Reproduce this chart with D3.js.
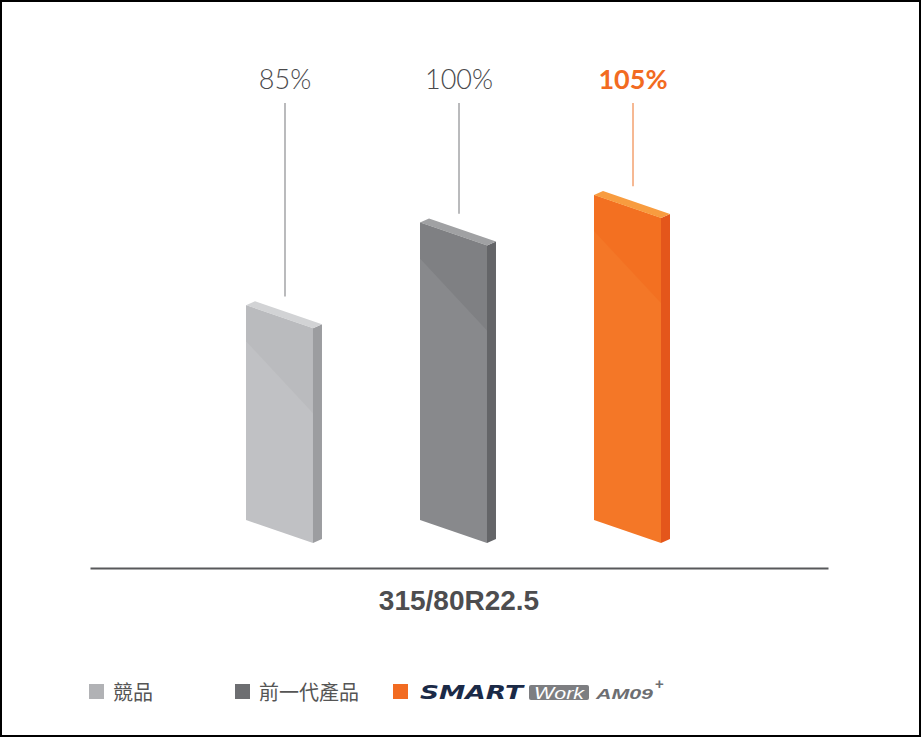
<!DOCTYPE html>
<html>
<head>
<meta charset="utf-8">
<script src="https://cdn.jsdelivr.net/npm/d3@7"></script>
<style>
  html, body { margin: 0; padding: 0; background: #fff; }
</style>
</head>
<body>
<div id="chart-container"></div>
<script>
// data
const categories = ['競品', '前一代產品', 'SMART Work AM09+'];
const values = [85, 100, 105];
const valueLabels = ['85%', '100%', '105%'];
const tireSizes = ['315/80R22.5'];

const width = 921;
const height = 737;

// bar faces: front upper, front lower, side, top
const palette = [
  { up: '#babbbe', low: '#c0c1c4', side: '#9c9da0', top: '#d2d3d5', label: '#4a4a4c', line: '#8c8d90', weight: 300 },
  { up: '#7f8083', low: '#88898c', side: '#646568', top: '#a0a1a3', label: '#4a4a4c', line: '#8c8d90', weight: 300 },
  { up: '#f37021', low: '#f47727', side: '#e4561b', top: '#f89c3f', label: '#f26b21', line: '#f08a4b', weight: 700 }
];
const legendColors = ['#b1b2b5', '#6d6e71', '#f26b21'];

const baseY = 520;
const skew = 23;      // front face drops to the right
const dx = 9, dy = -4; // depth of the slab

const svg = d3.select('#chart-container')
  .append('svg')
  .attr('width', width)
  .attr('height', height);

svg.append('rect')
  .attr('x', 1).attr('y', 1)
  .attr('width', width - 2).attr('height', height - 2)
  .attr('fill', '#fff')
  .attr('stroke', '#000')
  .attr('stroke-width', 2);

const x = d3.scaleBand()
  .domain(categories)
  .range([246, 661])
  .paddingInner(0.615)
  .paddingOuter(0);

const y = d3.scaleLinear()
  .domain([46, 105])
  .range([baseY, 195]);

const w = x.bandwidth();
const pts = (arr) => arr.map(p => p.join(',')).join(' ');

const bars = svg.selectAll('.bar')
  .data(categories.map((c, i) => ({ cat: c, value: values[i], label: valueLabels[i], col: palette[i] })))
  .enter()
  .append('g')
  .attr('class', 'bar');

// front face (lower tone)
bars.append('polygon')
  .attr('points', d => {
    const x0 = x(d.cat), yt = y(d.value);
    return pts([[x0, yt], [x0 + w, yt + skew], [x0 + w, baseY + skew], [x0, baseY]]);
  })
  .style('fill', d => d.col.low);

// front face upper tone, split by a diagonal
bars.append('polygon')
  .attr('points', d => {
    const x0 = x(d.cat), yt = y(d.value);
    return pts([[x0, yt], [x0 + w, yt + skew], [x0 + w, yt + skew + 85], [x0, yt + 36]]);
  })
  .style('fill', d => d.col.up);

// side
bars.append('polygon')
  .attr('points', d => {
    const x0 = x(d.cat) + w, yt = y(d.value) + skew;
    return pts([[x0, yt], [x0 + dx, yt + dy], [x0 + dx, baseY + skew + dy], [x0, baseY + skew]]);
  })
  .style('fill', d => d.col.side);

// top
bars.append('polygon')
  .attr('points', d => {
    const x0 = x(d.cat), yt = y(d.value);
    return pts([[x0, yt], [x0 + dx, yt + dy], [x0 + w + dx, yt + skew + dy], [x0 + w, yt + skew]]);
  })
  .style('fill', d => d.col.top);

// leader lines
const lx = d => x(d.cat) + 39;
bars.append('line')
  .attr('x1', lx).attr('x2', lx)
  .attr('y1', 103)
  .attr('y2', d => y(d.value) + dy + (39 - dx) * skew / w - 15)
  .style('stroke', d => d.col.line)
  .style('stroke-width', 1.2);

// value labels
bars.append('text')
  .attr('x', lx)
  .attr('y', 89)
  .attr('text-anchor', 'middle')
  .style('font-family', 'Lato, "Open Sans", sans-serif')
  .style('font-size', '27px')
  .style('font-weight', d => d.col.weight)
  .style('fill', d => d.col.label)
  .text(d => d.label);

// axis with the tire size
const xAxis = d3.scaleBand().domain(tireSizes).range([90, 828]);
const axisG = svg.append('g')
  .attr('transform', `translate(0, ${568})`)
  .call(d3.axisBottom(xAxis).tickSize(0).tickSizeOuter(0).tickPadding(22));
axisG.select('.domain')
  .style('stroke', '#58595b')
  .style('stroke-width', 2);
axisG.selectAll('text')
  .style('font-family', '"Liberation Sans", Arial, sans-serif')
  .style('font-size', '28px')
  .style('font-weight', 700)
  .style('fill', '#4d4d4f');

// legend
const legendX = [89, 235, 393];
const legend = svg.selectAll('.legend')
  .data(categories)
  .enter()
  .append('g')
  .attr('class', 'legend')
  .attr('transform', (d, i) => `translate(${legendX[i]}, 684)`);

legend.append('rect')
  .attr('width', 15).attr('height', 15)
  .style('fill', (d, i) => legendColors[i]);

legend.filter((d, i) => i < 2)
  .append('text')
  .attr('x', 24)
  .attr('y', 16)
  .style('font-family', '"Noto Sans CJK TC", "Noto Sans CJK SC", sans-serif')
  .style('font-size', '20px')
  .style('fill', '#555')
  .text(d => d);

// product logo in the third legend item
const logo = legend.filter((d, i) => i === 2);
const logoParts = categories[2].split(' ');
logo.append('text')
  .attr('x', 27).attr('y', 15)
  .attr('textLength', 103)
  .attr('lengthAdjust', 'spacingAndGlyphs')
  .style('font-family', '"DejaVu Sans", sans-serif')
  .style('font-size', '20px')
  .style('font-weight', 700)
  .style('font-style', 'italic')
  .style('fill', '#1b2a47')
  .text(logoParts[0]);
logo.append('rect')
  .attr('x', 136).attr('y', 1)
  .attr('width', 60).attr('height', 15)
  .attr('rx', 2)
  .style('fill', '#7d7e81');
logo.append('text')
  .attr('x', 141).attr('y', 14.5)
  .attr('textLength', 50)
  .attr('lengthAdjust', 'spacingAndGlyphs')
  .style('font-family', '"Liberation Sans", Arial, sans-serif')
  .style('font-size', '17px')
  .style('font-style', 'italic')
  .style('fill', '#fff')
  .text(logoParts[1]);
logo.append('text')
  .attr('x', 203).attr('y', 15)
  .attr('textLength', 57)
  .attr('lengthAdjust', 'spacingAndGlyphs')
  .style('font-family', '"Liberation Sans", Arial, sans-serif')
  .style('font-size', '15px')
  .style('font-weight', 700)
  .style('font-style', 'italic')
  .style('fill', '#6d6e71')
  .text(logoParts[2].replace('+', ''));
logo.append('text')
  .attr('x', 262).attr('y', 5)
  .style('font-family', '"Liberation Sans", Arial, sans-serif')
  .style('font-size', '15px')
  .style('font-weight', 700)
  .style('fill', '#6d6e71')
  .text('+');
</script>
</body>
</html>
